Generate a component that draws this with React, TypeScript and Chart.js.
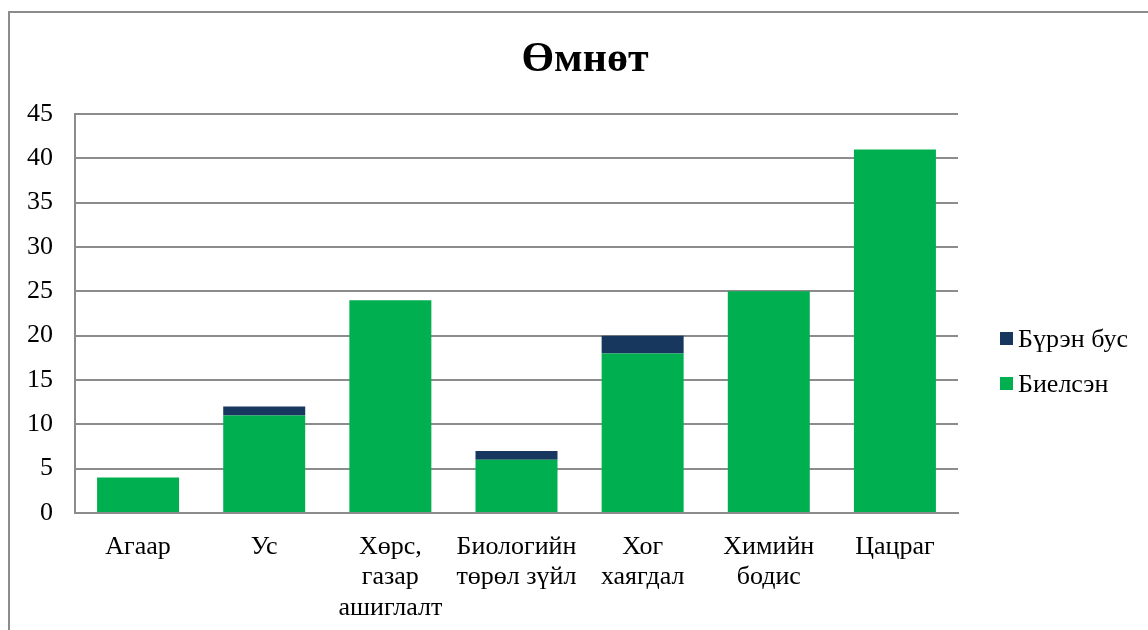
import React, { useEffect, useRef } from "react";
import { Chart, registerables } from "chart.js";

Chart.register(...registerables);

const categories: string[][] = [
  ["Агаар"],
  ["Ус"],
  ["Хөрс,", "газар", "ашиглалт"],
  ["Биологийн", "төрөл зүйл"],
  ["Хог", "хаягдал"],
  ["Химийн", "бодис"],
  ["Цацраг"],
];
const completed = [4, 11, 24, 6, 18, 25, 41];
const incomplete = [0, 1, 0, 1, 2, 0, 0];
const seriesNames = ["Биелсэн", "Бүрэн бус"];
const seriesColors = ["#00B050", "#17375E"];
const titleText = "Өмнөт";

const FONT = "'Liberation Serif', 'Times New Roman', serif";

const decorPlugin = {
  id: "decor",
  beforeDraw(chart: any) {
    const ctx = chart.ctx;
    ctx.save();
    ctx.fillStyle = "#ffffff";
    ctx.fillRect(0, 0, chart.width, chart.height);
    ctx.strokeStyle = "#8c8c8c";
    ctx.lineWidth = 2;
    ctx.strokeRect(9, 12, chart.width + 20, chart.height + 20);
    ctx.restore();
  },
  afterDraw(chart: any) {
    const ctx = chart.ctx;
    ctx.save();
    ctx.fillStyle = "#000";
    ctx.font = `bold 42px ${FONT}`;
    ctx.textAlign = "center";
    ctx.textBaseline = "middle";
    ctx.fillText(titleText, 585, 60);
    const ds = chart.data.datasets;
    ctx.font = `26px ${FONT}`;
    ctx.textAlign = "left";
    let y = 339;
    for (let i = ds.length - 1; i >= 0; i--) {
      ctx.fillStyle = ds[i].backgroundColor;
      ctx.fillRect(1000, y - 7, 13, 13);
      ctx.fillStyle = "#000";
      ctx.fillText(ds[i].label, 1018, y + 1);
      y += 45;
    }
    ctx.restore();
  },
};

export default function App() {
  const ref = useRef<HTMLCanvasElement>(null);
  useEffect(() => {
    if (!ref.current) return;
    const chart = new Chart(ref.current, {
      type: "bar",
      data: {
        labels: categories,
        datasets: [
          {
            label: seriesNames[0],
            data: completed,
            backgroundColor: seriesColors[0],
            categoryPercentage: 0.65,
            barPercentage: 1,
          },
          {
            label: seriesNames[1],
            data: incomplete,
            backgroundColor: seriesColors[1],
            categoryPercentage: 0.65,
            barPercentage: 1,
          },
        ],
      },
      plugins: [decorPlugin],
      options: {
        responsive: false,
        animation: false,
        layout: { padding: { left: 0, right: 190, top: 114, bottom: 0 } },
        plugins: { legend: { display: false }, title: { display: false }, tooltip: { enabled: false } },
        scales: {
          x: {
            stacked: true,
            grid: { display: false, drawTicks: false },
            border: { color: "#8c8c8c", width: 2 },
            ticks: { color: "#000", font: { family: FONT, size: 26, lineHeight: 1.17 }, padding: 19, maxRotation: 0, autoSkip: false },
            afterFit: (s: any) => { s.height = 117; },
          },
          y: {
            stacked: true,
            min: 0,
            max: 45,
            grid: { color: "#8c8c8c", lineWidth: 2, drawTicks: false },
            border: { color: "#8c8c8c", width: 2 },
            ticks: { stepSize: 5, color: "#000", font: { family: FONT, size: 26 }, padding: 22 },
            afterFit: (s: any) => { s.width = 75; },
          },
        },
      },
    });
    return () => chart.destroy();
  }, []);
  return (
    <div style={{ position: "absolute", left: 0, top: 0, width: 1148, height: 630, background: "#fff" }}>
      <canvas ref={ref} width={1148} height={630} />
    </div>
  );
}
